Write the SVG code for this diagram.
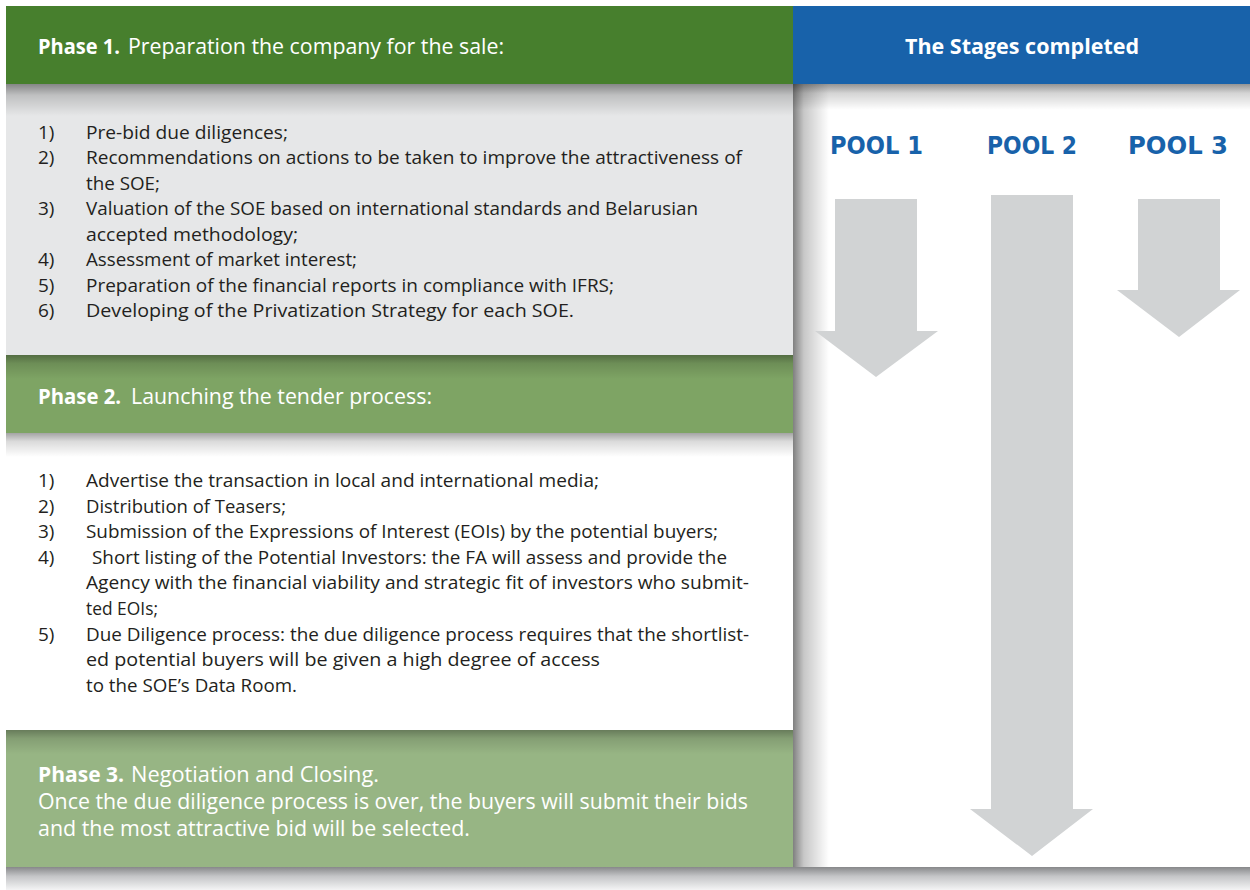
<svg xmlns="http://www.w3.org/2000/svg" width="1250" height="890" viewBox="0 0 1250 890">
<defs>
<linearGradient id="shTop" x1="0" y1="0" x2="0" y2="1">
<stop offset="0" stop-color="#000" stop-opacity="0.42"/>
<stop offset="0.35" stop-color="#000" stop-opacity="0.17"/>
<stop offset="1" stop-color="#000" stop-opacity="0"/>
</linearGradient>
<linearGradient id="shLeft" x1="0" y1="0" x2="1" y2="0">
<stop offset="0" stop-color="#000" stop-opacity="0.5"/>
<stop offset="0.3" stop-color="#000" stop-opacity="0.22"/>
<stop offset="1" stop-color="#000" stop-opacity="0"/>
</linearGradient>
<linearGradient id="shBottom" x1="0" y1="0" x2="0" y2="1">
<stop offset="0" stop-color="#87888a"/>
<stop offset="0.4" stop-color="#c4c5c7"/>
<stop offset="1" stop-color="#f4f4f5"/>
</linearGradient>
<style>
.t{font-family:"Open Sans","Liberation Sans",sans-serif}
.hd{font-size:21.5px;fill:#ffffff}
.b{font-weight:bold}
.li{font-size:19px;fill:#231f20}
.pool{font-family:"DejaVu Sans","Liberation Sans",sans-serif;font-size:24px;font-weight:bold;fill:#1862aa}
.arr{fill:#d1d3d4}
</style>
</defs>
<rect x="0" y="0" width="1250" height="890" fill="#ffffff"/>

<g id="right-column">
<rect x="793" y="84" width="457" height="783" fill="#ffffff"/>
<rect x="793" y="84" width="457" height="26" fill="url(#shTop)"/>
<rect x="793" y="84" width="36" height="783" fill="url(#shLeft)"/>
</g>

<g id="stages-header">
<rect x="793" y="6" width="457" height="78" fill="#1862aa"/>
<text class="t hd b" x="1022" y="54" text-anchor="middle" textLength="234" lengthAdjust="spacingAndGlyphs">The Stages completed</text>
</g>

<g id="phase1-header">
<rect x="6" y="6" width="787" height="78" fill="#477f2d"/>
<text class="t hd" y="54"><tspan class="b" x="38" textLength="82" lengthAdjust="spacingAndGlyphs">Phase 1.</tspan><tspan x="128" textLength="376" lengthAdjust="spacingAndGlyphs">Preparation the company for the sale:</tspan></text>
</g>

<g id="phase1-body">
<rect x="6" y="84" width="787" height="271" fill="#e6e7e8"/>
<rect x="6" y="84" width="787" height="32" fill="url(#shTop)"/>
<g class="t li">
<text x="38" y="138.5">1)</text>
<text x="86" y="138.5" textLength="202" lengthAdjust="spacingAndGlyphs">Pre-bid due diligences;</text>
<text x="38" y="164">2)</text>
<text x="86" y="164" textLength="656" lengthAdjust="spacingAndGlyphs">Recommendations on actions to be taken to improve the attractiveness of</text>
<text x="86" y="189.5" textLength="74" lengthAdjust="spacingAndGlyphs">the SOE;</text>
<text x="38" y="215">3)</text>
<text x="86" y="215" textLength="612" lengthAdjust="spacingAndGlyphs">Valuation of the SOE based on international standards and Belarusian</text>
<text x="86" y="240.5" textLength="212" lengthAdjust="spacingAndGlyphs">accepted methodology;</text>
<text x="38" y="266">4)</text>
<text x="86" y="266" textLength="271" lengthAdjust="spacingAndGlyphs">Assessment of market interest;</text>
<text x="38" y="291.5">5)</text>
<text x="86" y="291.5" textLength="528" lengthAdjust="spacingAndGlyphs">Preparation of the financial reports in compliance with IFRS;</text>
<text x="38" y="317">6)</text>
<text x="86" y="317" textLength="488" lengthAdjust="spacingAndGlyphs">Developing of the Privatization Strategy for each SOE.</text>
</g>
</g>

<g id="phase2-header">
<rect x="6" y="355" width="787" height="78" fill="#7ea464"/>
<rect x="6" y="355" width="787" height="24" fill="url(#shTop)" opacity="0.8"/>
<text class="t hd" y="404"><tspan class="b" x="38" textLength="83" lengthAdjust="spacingAndGlyphs">Phase 2.</tspan><tspan x="131" textLength="301" lengthAdjust="spacingAndGlyphs">Launching the tender process:</tspan></text>
</g>

<g id="phase2-body">
<rect x="6" y="433" width="787" height="297" fill="#ffffff"/>
<rect x="6" y="433" width="787" height="24" fill="url(#shTop)" opacity="0.85"/>
<g class="t li">
<text x="38" y="487">1)</text>
<text x="86" y="487" textLength="513" lengthAdjust="spacingAndGlyphs">Advertise the transaction in local and international media;</text>
<text x="38" y="512.6">2)</text>
<text x="86" y="512.6" textLength="200" lengthAdjust="spacingAndGlyphs">Distribution of Teasers;</text>
<text x="38" y="538.2">3)</text>
<text x="86" y="538.2" textLength="632" lengthAdjust="spacingAndGlyphs">Submission of the Expressions of Interest (EOIs) by the potential buyers;</text>
<text x="38" y="563.8">4)</text>
<text x="92" y="563.8" textLength="635" lengthAdjust="spacingAndGlyphs">Short listing of the Potential Investors: the FA will assess and provide the</text>
<text x="86" y="589.4" textLength="663" lengthAdjust="spacingAndGlyphs">Agency with the financial viability and strategic fit of investors who submit-</text>
<text x="86" y="615" textLength="72" lengthAdjust="spacingAndGlyphs">ted EOIs;</text>
<text x="38" y="640.6">5)</text>
<text x="86" y="640.6" textLength="663" lengthAdjust="spacingAndGlyphs">Due Diligence process: the due diligence process requires that the shortlist-</text>
<text x="86" y="666.2" textLength="514" lengthAdjust="spacingAndGlyphs">ed potential buyers will be given a high degree of access</text>
<text x="86" y="691.8" textLength="211" lengthAdjust="spacingAndGlyphs">to the SOE’s Data Room.</text>
</g>
</g>

<g id="phase3">
<rect x="6" y="730" width="787" height="137" fill="#97b584"/>
<rect x="6" y="730" width="787" height="24" fill="url(#shTop)" opacity="0.75"/>
<text class="t hd" y="782"><tspan class="b" x="38" textLength="86" lengthAdjust="spacingAndGlyphs">Phase 3.</tspan><tspan x="131" textLength="248" lengthAdjust="spacingAndGlyphs">Negotiation and Closing.</tspan></text>
<text class="t hd" x="38" y="809" textLength="710" lengthAdjust="spacingAndGlyphs">Once the due diligence process is over, the buyers will submit their bids</text>
<text class="t hd" x="38" y="836" textLength="432" lengthAdjust="spacingAndGlyphs">and the most attractive bid will be selected.</text>
</g>

<rect id="bottom-shadow" x="6" y="867" width="1244" height="23" fill="url(#shBottom)"/>

<g id="pool1">
<text class="pool" x="830" y="154" textLength="93" lengthAdjust="spacingAndGlyphs">POOL 1</text>
</g>
<g id="pool2">
<text class="pool" x="987" y="154" textLength="90" lengthAdjust="spacingAndGlyphs">POOL 2</text>
</g>
<g id="pool3">
<text class="pool" x="1128" y="154" textLength="100" lengthAdjust="spacingAndGlyphs">POOL 3</text>
</g>

<g id="connectors">
<polygon class="arr" points="835,199 917,199 917,331 938,331 876,377 815,331 835,331"/>
<polygon class="arr" points="991,195 1073,195 1073,809 1093,809 1032,856 970,809 991,809"/>
<polygon class="arr" points="1138,199 1220,199 1220,290 1240,290 1179,337 1117,290 1138,290"/>
</g>
</svg>
